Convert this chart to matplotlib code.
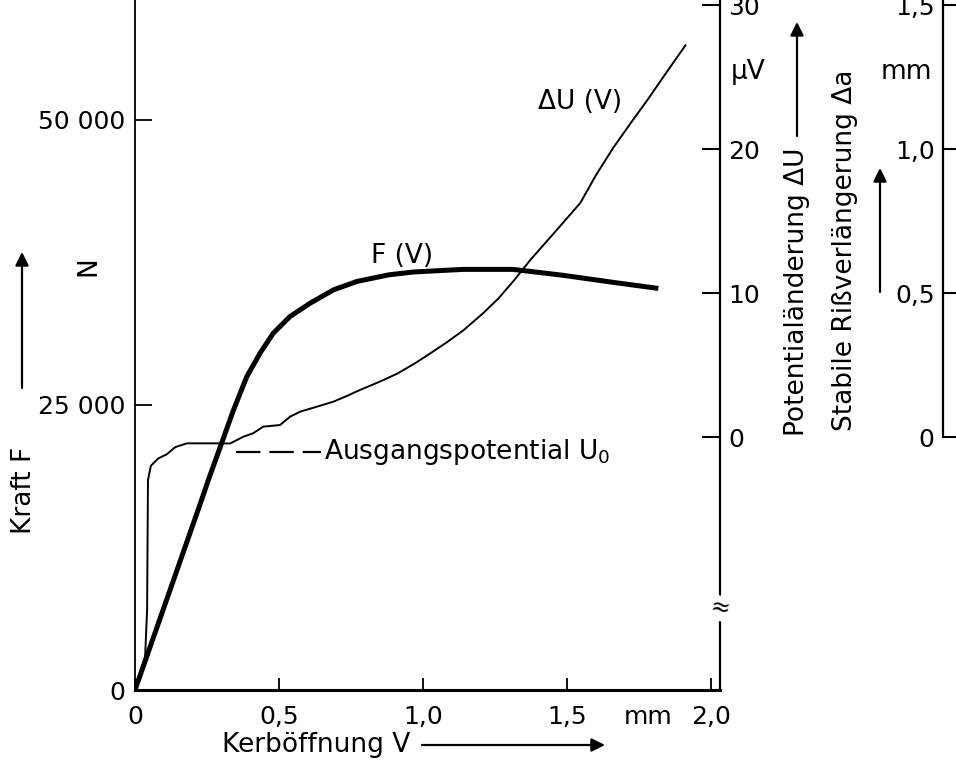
import numpy as np
import matplotlib.pyplot as plt

# Kraft F(V) in N, Kerböffnung V in mm
v_force = [0, 0.12, 0.226, 0.26, 0.301, 0.341, 0.388, 0.434, 0.48, 0.538,
           0.608, 0.689, 0.77, 0.88, 0.965, 1.139, 1.312, 1.486, 1.66, 1.816]
force = [0, 8650, 16300, 18800, 21670, 24500, 27480, 29540, 31290, 32750,
         33920, 35090, 35820, 36400, 36650, 36880, 36880, 36360, 35740, 35210]

# Potentialänderung dU(V) in microvolt
v_pot = [0.0, 0.035, 0.042, 0.045, 0.055, 0.08, 0.11, 0.14, 0.18, 0.30, 0.33,
         0.376, 0.41, 0.445, 0.503, 0.538, 0.573, 0.63, 0.688, 0.735, 0.78,
         0.85, 0.91, 0.97, 1.024, 1.08, 1.139, 1.208, 1.26, 1.312, 1.372, 1.46,
         1.545, 1.60, 1.66, 1.72, 1.778, 1.84, 1.91]
pot = [-17.4, -15.3, -12.0, -3.0, -2.0, -1.5, -1.2, -0.7, -0.44, -0.44, -0.45,
       0.02, 0.26, 0.72, 0.83, 1.41, 1.76, 2.1, 2.45, 2.85, 3.26,
       3.85, 4.4, 5.1, 5.8, 6.55, 7.4, 8.6, 9.6, 10.8, 12.3, 14.3,
       16.25, 18.2, 20.1, 21.8, 23.4, 25.2, 27.2]

# Ausgangspotential U0 marker line
v_u0 = [0.35, 0.645]
u0 = [-1.05, -1.05]

x_ticks = [0, 0.5, 1.0, 1.5, 2.0]
x_labels = ['0', '0,5', '1,0', '1,5', '2,0']
f_ticks = [0, 25000, 50000]
f_labels = ['0', '25 000', '50 000']
u_ticks = [0, 10, 20, 30]
u_labels = ['0', '10', '20', '30']
a_ticks = [0, 0.5, 1.0, 1.5]
a_labels = ['0', '0,5', '1,0', '1,5']

W, H = 956, 762
fs = 19   # texts
fst = 18  # tick labels


def px(x, y):
    # pixel position -> figure fraction
    return (x / W, 1 - y / H)


fig = plt.figure(figsize=(W / 100, H / 100), dpi=100)
ax = fig.add_axes([135 / W, 1 - 690 / H, 585 / W, 690 / H])

ax.plot(v_force, force, color='black', lw=3.6, solid_capstyle='butt')
ax.set_xlim(0, 2.03)
ax.set_ylim(0, 60500)
ax.set_xticks(x_ticks)
ax.set_xticklabels(x_labels, fontsize=fst)
ax.set_yticks(f_ticks)
ax.set_yticklabels(f_labels, fontsize=fst)
ax.tick_params(axis='x', direction='in', length=9, width=1.3, pad=11)
ax.tick_params(axis='y', direction='in', length=12, width=1.3, pad=7)
ax.spines['top'].set_visible(False)
ax.spines['right'].set_visible(False)
ax.spines['bottom'].set_linewidth(2.2)
ax.spines['left'].set_linewidth(1.3)

# dU axis on the right
ax2 = ax.twinx()
ax2.plot(v_pot, pot, color='black', lw=1.4)
ax2.plot(v_u0, u0, color='black', lw=1.6, dashes=(11, 4))
ax2.set_ylim(-17.57, 30.35)
ax2.set_yticks(u_ticks)
ax2.set_yticklabels(u_labels, fontsize=fst)
ax2.tick_params(axis='y', direction='in', length=13, width=1.5, pad=6)
for s in ['top', 'left', 'bottom']:
    ax2.spines[s].set_visible(False)
ax2.spines['right'].set_linewidth(1.6)
ax2.text(1.0, -11.9, '≈', transform=ax2.get_yaxis_transform(), ha='center',
         va='center', fontsize=17, rotation=-10,
         bbox=dict(facecolor='white', edgecolor='none', pad=0.5))

# da axis further right, labels on its left side
ax3 = ax.twinx()
ax3.set_ylim(-17.57 / 20, 30.35 / 20)
ax3.yaxis.set_ticks_position('left')
ax3.yaxis.set_label_position('left')
ax3.spines['left'].set_position(('axes', (943 - 135) / 585))
ax3.spines['left'].set_bounds(0, 1.6)
ax3.spines['left'].set_linewidth(1.6)
for s in ['top', 'right', 'bottom']:
    ax3.spines[s].set_visible(False)
ax3.set_yticks(a_ticks)
ax3.set_yticklabels(a_labels, fontsize=fst)
ax3.tick_params(axis='y', direction='in', length=12, width=1.5, pad=6)

# curve labels
fig.text(*px(402, 256), 'F (V)', fontsize=fs, ha='center', va='center')
fig.text(*px(580, 102), 'ΔU (V)', fontsize=fs, ha='center', va='center')
fig.text(*px(324, 452), 'Ausgangspotential U$_0$', fontsize=fs, ha='left', va='center')
fig.text(*px(648, 717), 'mm', fontsize=fst, ha='center', va='center')
fig.text(*px(748, 72), 'μV', fontsize=fs, ha='center', va='center')
fig.text(*px(906, 72), 'mm', fontsize=fs, ha='center', va='center')
fig.text(*px(88, 266), 'N', fontsize=fs, ha='center', va='center', rotation=90)

# axis titles with arrows
arw = dict(arrowstyle='-|>', lw=1.6, color='black', mutation_scale=20,
           shrinkA=0, shrinkB=0)
fig.text(*px(24, 490), 'Kraft F', fontsize=fs, rotation=90, ha='center', va='center')
fig.add_artist(plt.Annotation('', xy=px(22, 252), xytext=px(22, 388),
                              xycoords='figure fraction', arrowprops=arw))
fig.text(*px(222, 745), 'Kerböffnung V', fontsize=fs, ha='left', va='center')
fig.add_artist(plt.Annotation('', xy=px(605, 745), xytext=px(422, 745),
                              xycoords='figure fraction', arrowprops=arw))
fig.text(*px(797, 292), 'Potentialänderung ΔU', fontsize=fs, rotation=90,
         ha='center', va='center')
fig.add_artist(plt.Annotation('', xy=px(797, 22), xytext=px(797, 136),
                              xycoords='figure fraction', arrowprops=arw))
fig.text(*px(845, 250), 'Stabile Rißverlängerung Δa', fontsize=fs, rotation=90,
         ha='center', va='center')
fig.add_artist(plt.Annotation('', xy=px(880, 168), xytext=px(880, 292),
                              xycoords='figure fraction', arrowprops=arw))

fig.savefig('out.png', dpi=100)
